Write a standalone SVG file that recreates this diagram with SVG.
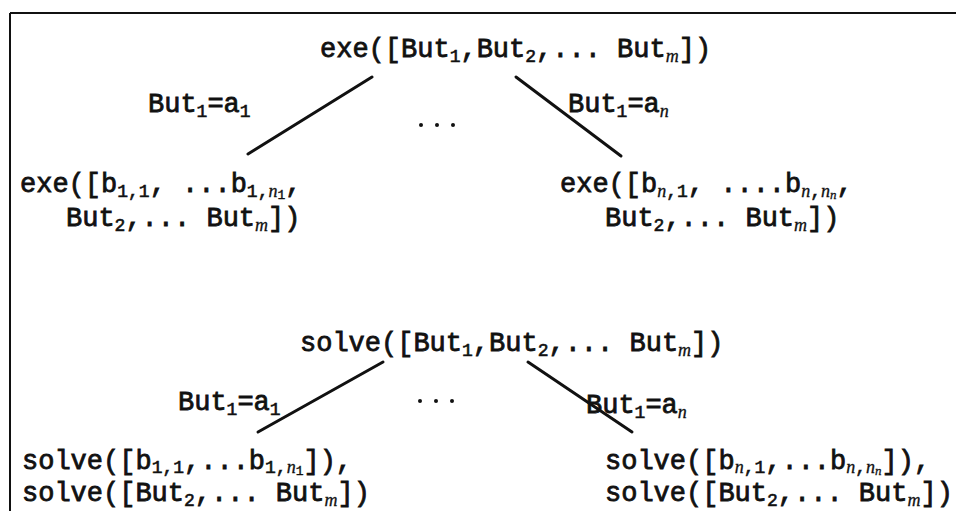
<svg xmlns="http://www.w3.org/2000/svg" width="956" height="511" viewBox="0 0 956 511">
  <style>
    text { font-family: "Liberation Mono", "DejaVu Sans Mono", monospace; font-size: 27px; font-weight: normal; fill: #111; stroke: #111; stroke-width: 0.8; }
    .s { font-size: 18px; stroke-width: 0.6; }
    .ss { font-size: 13px; stroke-width: 0.4; }
    .i { font-family: "Liberation Serif", "DejaVu Serif", serif; font-style: italic; stroke-width: 0.3; }
    .edge { stroke: #111; stroke-width: 3; fill: none; stroke-linecap: round; }
    .frame { stroke: #111; stroke-width: 2; fill: none; }
    .dot { fill: #111; }
  </style>

  <!-- open frame: top rule and left rule -->
  <path class="frame" d="M10,13 H956 M10,13 V511"/>

  <!-- connectors with their branch labels -->
  <g id="edges">
    <line class="edge" x1="372" y1="77" x2="248" y2="154"/>
    <line class="edge" x1="516" y1="77" x2="621" y2="156"/>
    <line class="edge" x1="383" y1="362" x2="258" y2="432"/>
    <line class="edge" x1="528" y1="362" x2="632" y2="432"/>
    <text x="148" y="112">But<tspan class="s" dy="5">1</tspan><tspan dy="-5">=a</tspan><tspan class="s" dy="5">1</tspan></text>
    <text x="568" y="112">But<tspan class="s" dy="5">1</tspan><tspan dy="-5">=a</tspan><tspan class="s i" dy="5">n</tspan></text>
    <text x="178" y="410">But<tspan class="s" dy="5">1</tspan><tspan dy="-5">=a</tspan><tspan class="s" dy="5">1</tspan></text>
    <text x="586" y="413">But<tspan class="s" dy="5">1</tspan><tspan dy="-5">=a</tspan><tspan class="s i" dy="5">n</tspan></text>
    <circle class="dot" cx="421" cy="125" r="2"/>
    <circle class="dot" cx="437" cy="125" r="2"/>
    <circle class="dot" cx="453" cy="125" r="2"/>
    <circle class="dot" cx="420" cy="401" r="2"/>
    <circle class="dot" cx="436" cy="401" r="2"/>
    <circle class="dot" cx="452" cy="401" r="2"/>
  </g>

  <!-- exe tree -->
  <g id="exe-root">
    <text x="320" y="57">exe([But<tspan class="s" dy="5">1</tspan><tspan dy="-5">,But</tspan><tspan class="s" dy="5">2</tspan><tspan dy="-5">,... But</tspan><tspan class="s i" dy="5">m</tspan><tspan dy="-5">])</tspan></text>
  </g>
  <g id="exe-left">
    <text x="20" y="192">exe([b<tspan class="s" dy="5">1,1</tspan><tspan dy="-5">, ...b</tspan><tspan class="s" dy="5">1,</tspan><tspan class="s i">n</tspan><tspan class="ss" dy="2">1</tspan><tspan dy="-7">,</tspan></text>
    <text x="66" y="226">But<tspan class="s" dy="5">2</tspan><tspan dy="-5">,... But</tspan><tspan class="s i" dy="5">m</tspan><tspan dy="-5">])</tspan></text>
  </g>
  <g id="exe-right">
    <text x="560" y="192">exe([b<tspan class="s i" dy="5">n</tspan><tspan class="s">,1</tspan><tspan dy="-5">, ....b</tspan><tspan class="s i" dy="5">n</tspan><tspan class="s">,</tspan><tspan class="s i">n</tspan><tspan class="ss i" dy="2">n</tspan><tspan dy="-7">,</tspan></text>
    <text x="605" y="226">But<tspan class="s" dy="5">2</tspan><tspan dy="-5">,... But</tspan><tspan class="s i" dy="5">m</tspan><tspan dy="-5">])</tspan></text>
  </g>

  <!-- solve tree -->
  <g id="solve-root">
    <text x="300" y="351">solve([But<tspan class="s" dy="5">1</tspan><tspan dy="-5">,But</tspan><tspan class="s" dy="5">2</tspan><tspan dy="-5">,... But</tspan><tspan class="s i" dy="5">m</tspan><tspan dy="-5">])</tspan></text>
  </g>
  <g id="solve-left">
    <text x="22" y="469">solve([b<tspan class="s" dy="4">1,1</tspan><tspan dy="-4">,...b</tspan><tspan class="s" dy="4">1,</tspan><tspan class="s i">n</tspan><tspan class="ss" dy="2">1</tspan><tspan dy="-6">]),</tspan></text>
    <text x="22" y="501">solve([But<tspan class="s" dy="5">2</tspan><tspan dy="-5">,... But</tspan><tspan class="s i" dy="5">m</tspan><tspan dy="-5">])</tspan></text>
  </g>
  <g id="solve-right">
    <text x="605" y="469">solve([b<tspan class="s i" dy="4">n</tspan><tspan class="s">,1</tspan><tspan dy="-4">,...b</tspan><tspan class="s i" dy="4">n</tspan><tspan class="s">,</tspan><tspan class="s i">n</tspan><tspan class="ss i" dy="2">n</tspan><tspan dy="-6">]),</tspan></text>
    <text x="605" y="501">solve([But<tspan class="s" dy="5">2</tspan><tspan dy="-5">,... But</tspan><tspan class="s i" dy="5">m</tspan><tspan dy="-5">])</tspan></text>
  </g>
</svg>
